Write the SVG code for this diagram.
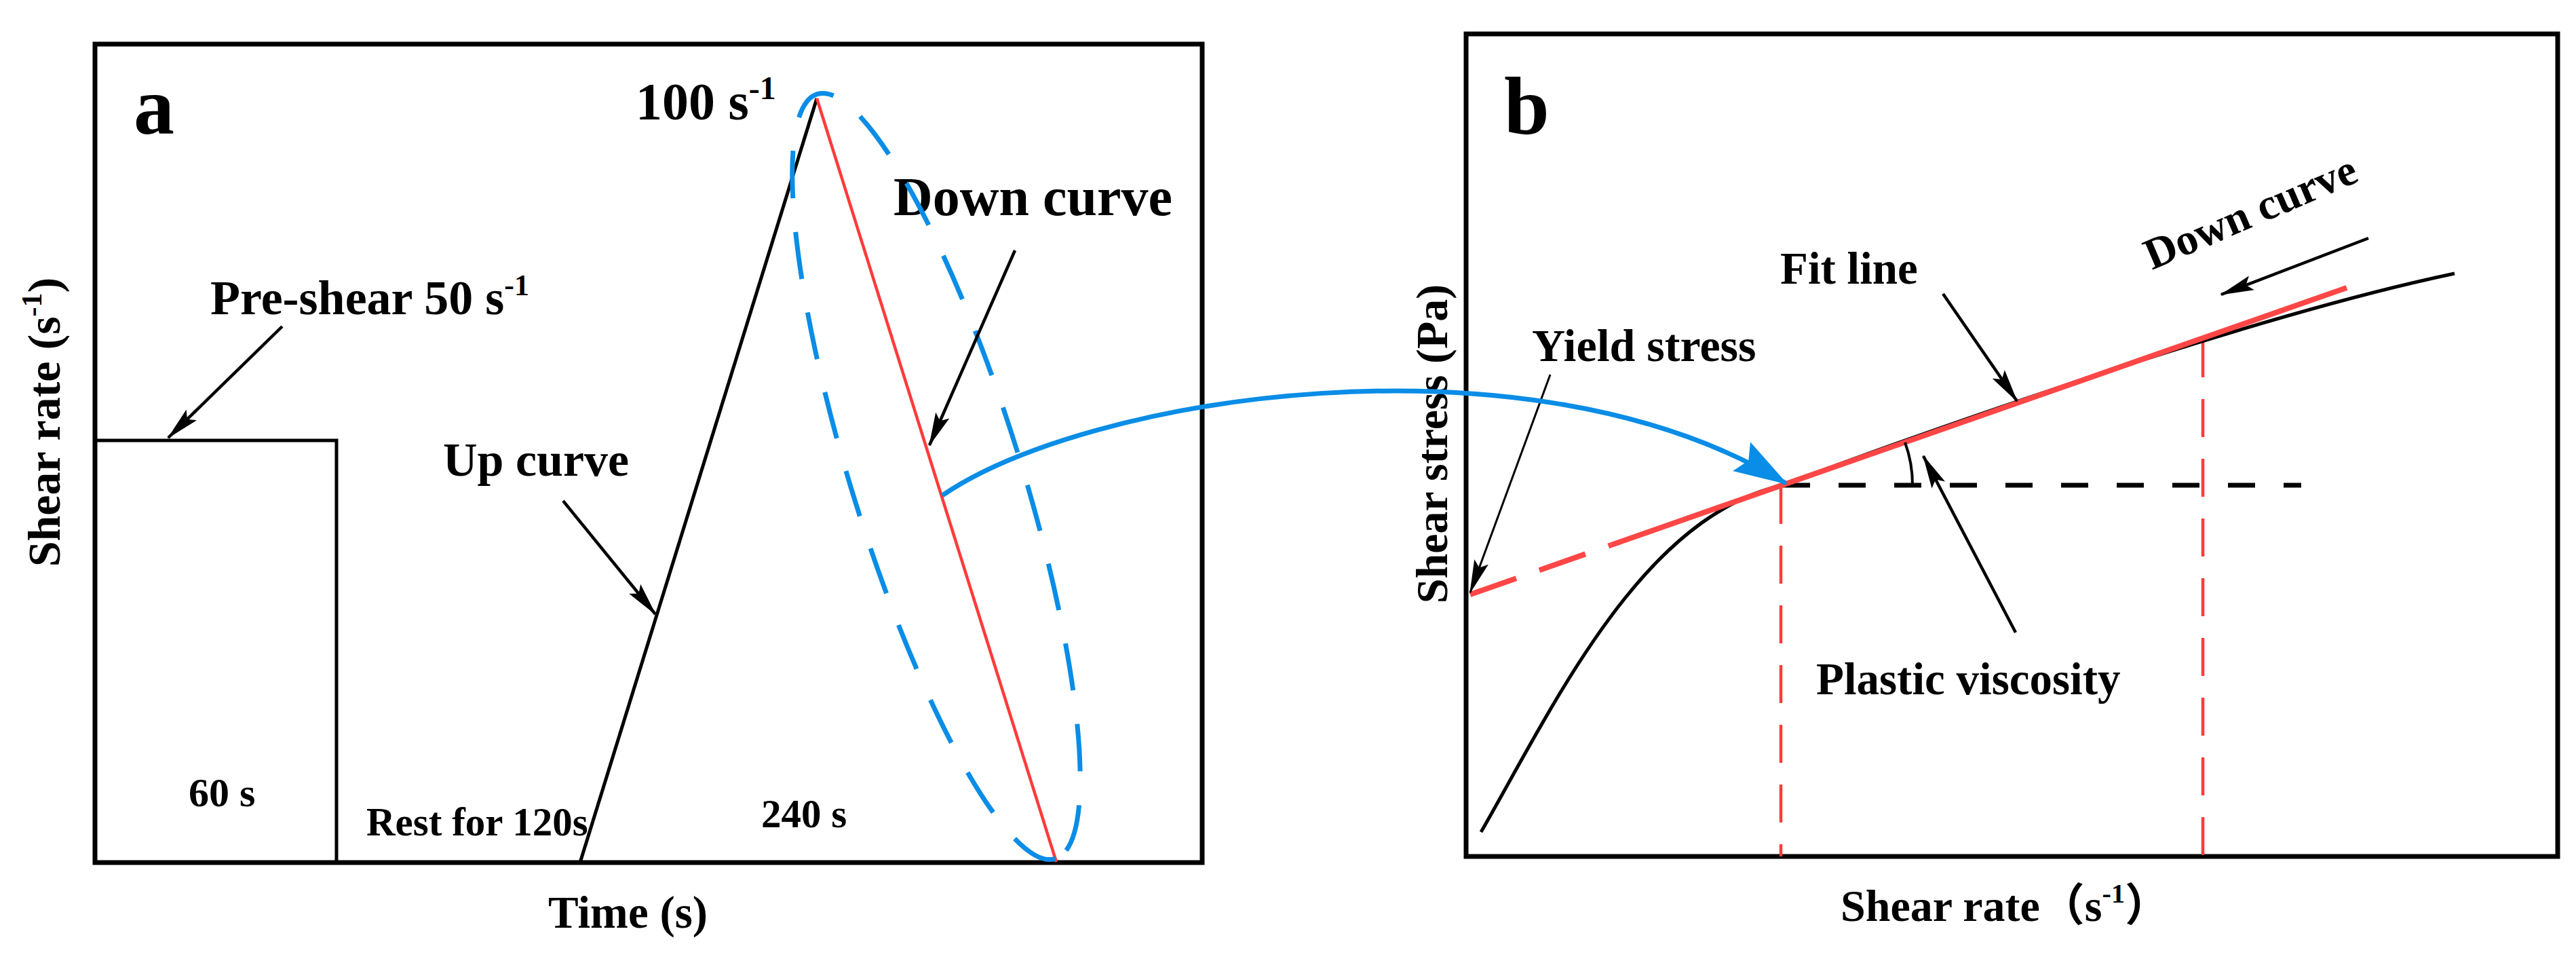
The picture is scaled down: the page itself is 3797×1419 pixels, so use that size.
<svg xmlns="http://www.w3.org/2000/svg" width="3797" height="1419" viewBox="0 0 3797 1419">
<style>
.t{font-family:"Liberation Serif","Times New Roman","Noto Sans CJK SC",serif;font-weight:bold;fill:#000}
.frame{fill:none;stroke:#000;stroke-width:7}
.blk{fill:none;stroke:#000;stroke-width:5}
.arr{fill:none;stroke:#000;stroke-width:4.5;marker-end:url(#ah)}
.reda{fill:none;stroke:#ff3b3b;stroke-width:4.5}
.redb{fill:none;stroke:#ff4646;stroke-width:8}
.redv{fill:none;stroke:#ff3b3b;stroke-width:4.5;stroke-dasharray:56 32}
.blue{fill:none;stroke:#0a8de6;stroke-width:7}
</style>
<defs>
<marker id="ah" markerUnits="userSpaceOnUse" viewBox="0 0 50 24" markerWidth="50" markerHeight="24" refX="48" refY="12" orient="auto"><path d="M0,1 L50,12 L0,23 L9,12 z" fill="#000"/></marker>
<marker id="bh" markerUnits="userSpaceOnUse" viewBox="0 0 80 50" markerWidth="80" markerHeight="50" refX="76" refY="25" orient="auto"><path d="M0,0 L80,25 L0,50 L12,25 z" fill="#0a8de6"/></marker>
</defs>
<rect width="3797" height="1419" fill="#fff"/>

<g id="panel-a">
<rect class="frame" x="140" y="65" width="1632" height="1206"/>
<polyline class="blk" points="140,649 496,649 496,1271"/>
<text class="t" x="197" y="197" font-size="120">a</text>
<text class="t" x="937" y="176" font-size="78">100 s<tspan font-size="48" dy="-30">-1</tspan></text>
<text class="t" x="310" y="463" font-size="72">Pre-shear 50 s<tspan font-size="44" dy="-28">-1</tspan></text>
<text class="t" x="653" y="701" font-size="70">Up curve</text>
<text class="t" x="1317" y="317" font-size="80">Down curve</text>
<text class="t" x="278" y="1188" font-size="60">60 s</text>
<text class="t" x="540" y="1231" font-size="59">Rest for 120s</text>
<text class="t" x="1122" y="1219" font-size="59">240 s</text>
<text class="t" x="808" y="1367" font-size="67">Time (s)</text>
<text class="t" transform="translate(88,622) rotate(-90)" text-anchor="middle" font-size="68">Shear rate (s<tspan font-size="42" dy="-27">-1</tspan><tspan dy="27">)</tspan></text>
<line class="blk" x1="855" y1="1271" x2="1204" y2="145"/>
<line class="reda" x1="1204" y1="145" x2="1557" y2="1270"/>
<ellipse cx="1380" cy="702" rx="590" ry="125" transform="rotate(72.7 1380 702)" fill="none" stroke="#0a8de6" stroke-width="7" stroke-dasharray="70 50"/>
</g>

<g id="panel-b">
<rect class="frame" x="2161" y="50" width="1609" height="1212"/>
<text class="t" x="2217" y="197" font-size="120">b</text>
<text class="t" transform="translate(2133,654) rotate(-90)" text-anchor="middle" font-size="66">Shear stress (Pa)</text>
<text class="t" x="2258" y="532" font-size="68">Yield stress</text>
<text class="t" x="2624" y="418" font-size="67">Fit line</text>
<text class="t" x="2677" y="1023" font-size="67">Plastic viscosity</text>
<text class="t" transform="translate(3172,398) rotate(-23.2)" font-size="65">Down curve</text>
<text class="t" x="2713" y="1357" font-size="66">Shear rate（s<tspan font-size="40" dy="-27">-1</tspan><tspan dy="27">）</tspan></text>
<line class="redv" x1="2625" y1="716" x2="2625" y2="1262"/>
<line class="redv" x1="3247" y1="500" x2="3247" y2="1262"/>
<line x1="2628" y1="715" x2="3392" y2="715" stroke="#000" stroke-width="7" stroke-dasharray="40 42"/>
<path class="blk" d="M2183,1226 C2290,1040 2420,760 2628,715 C2800,650 3300,470 3618,403"/>
<line class="redb" x1="2167" y1="876" x2="2375" y2="803" stroke-dasharray="72 36"/>
<line class="redb" x1="2375" y1="803" x2="3459" y2="424"/>
<path class="blk" d="M2808,652 A181,181 0 0 1 2819,715" style="stroke-width:4"/>
</g>

<g id="connectors">
<line class="arr" x1="416" y1="481" x2="248" y2="645"/>
<line class="arr" x1="830" y1="738" x2="966" y2="905"/>
<line class="arr" x1="1496" y1="369" x2="1370" y2="656"/>
<line class="arr" x1="2285" y1="552" x2="2167" y2="873" style="stroke-width:3"/>
<line class="arr" x1="2864" y1="433" x2="2973" y2="591"/>
<line class="arr" x1="2971" y1="932" x2="2835" y2="672"/>
<line class="arr" x1="3491" y1="351" x2="3274" y2="434"/>
<path class="blue" d="M1389,730 C1600,585 2250,480 2632,712" marker-end="url(#bh)"/>
</g>
</svg>
